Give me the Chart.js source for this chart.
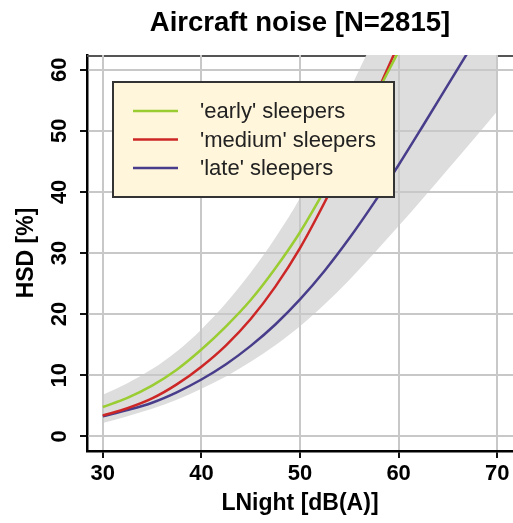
<!DOCTYPE html>
<html>
<head>
<meta charset="utf-8">
<script src="https://cdn.jsdelivr.net/npm/chart.js@4"></script>
<style>
  html, body { margin: 0; padding: 0; background: #fff; overflow: hidden; }
</style>
</head>
<body>
<canvas id="myChart" width="513" height="523"></canvas>
<script>
// LNight levels (dB(A)) and HSD (%)
const levels = [30, 32.5, 35, 37.5, 40, 42.5, 45, 47.5, 50, 52.5, 55, 57.5, 60, 62.5, 65, 67.5, 70];
const earlySleepers = [4.8, 6.3, 8.3, 10.9, 14.2, 18.0, 22.3, 27.5, 33.4, 40.3, 47.6, 55.2, 63.0, 71.0, 79.0, 87.0, 95.0];
const mediumSleepers = [3.4, 4.6, 6.2, 8.5, 11.4, 14.9, 19.2, 24.5, 30.8, 38.3, 46.5, 55.2, 64.2, 73.3, 82.5, 91.7, 101.0];
const lateSleepers = [3.3, 4.3, 5.5, 7.2, 9.3, 11.8, 14.8, 18.3, 22.4, 27.1, 32.4, 38.2, 44.4, 50.9, 57.5, 64.1, 70.7];
const bandLower = [2.2, 3.3, 4.5, 6.0, 7.8, 9.8, 12.2, 14.9, 18.0, 21.6, 25.6, 29.9, 34.4, 39.0, 43.7, 48.4, 53.2];
const bandUpper = [6.8, 8.7, 11.0, 13.9, 17.5, 21.8, 26.8, 32.5, 39.0, 47.0, 56.5, 65.0, 73.5, 82.0, 90.5, 99.0, 107.5];

const xTicks = [30, 40, 50, 60, 70];
const yTicks = [0, 10, 20, 30, 40, 50, 60];
const seriesNames = ["'early' sleepers", "'medium' sleepers", "'late' sleepers"];
const seriesColors = ['#9acd32', '#cd2626', '#483d8b'];

const FONT = "'Liberation Sans', Arial, Helvetica, sans-serif";
Chart.defaults.font.family = FONT;
Chart.defaults.color = '#000';

const toPoints = (ys) => levels.map((x, i) => ({x: x, y: ys[i]}));

const curve = (i, ys) => ({
    label: seriesNames[i],
    data: toPoints(ys),
    borderColor: seriesColors[i],
    borderWidth: 2.5,
    pointRadius: 0,
    fill: false,
    cubicInterpolationMode: 'monotone',
});

const data = {
    datasets: [
        curve(0, earlySleepers),
        curve(1, mediumSleepers),
        curve(2, lateSleepers),
        {
            label: 'lower',
            data: toPoints(bandLower),
            borderWidth: 0,
            pointRadius: 0,
            fill: false,
            cubicInterpolationMode: 'monotone',
        },
        {
            label: 'upper',
            data: toPoints(bandUpper),
            borderWidth: 0,
            pointRadius: 0,
            backgroundColor: '#dddddd',
            fill: '-1',
            cubicInterpolationMode: 'monotone',
        },
    ]
};

// top frame line (sits under the band), grid redrawn over the band
const framePlugin = {
    id: 'frame',
    beforeDatasetsDraw(chart) {
        const {ctx, chartArea} = chart;
        ctx.save();
        ctx.strokeStyle = '#555';
        ctx.lineWidth = 2;
        ctx.beginPath();
        ctx.moveTo(chartArea.left, chartArea.top + 1);
        ctx.lineTo(chartArea.right, chartArea.top + 1);
        ctx.stroke();
        ctx.restore();
    },
    afterDatasetDraw(chart, args) {
        if (args.index !== 4) return;
        chart.scales.x.drawGrid(chart.chartArea);
        chart.scales.y.drawGrid(chart.chartArea);
    },
    afterDraw(chart) {
        const {ctx, chartArea} = chart;
        const y = chart.scales.y;
        // rotated y tick labels, like R's default
        ctx.save();
        ctx.font = 'bold 22px ' + FONT;
        ctx.fillStyle = '#000';
        ctx.textAlign = 'center';
        ctx.textBaseline = 'alphabetic';
        y.ticks.forEach(t => {
            ctx.save();
            ctx.translate(chartArea.left - 21, y.getPixelForValue(t.value));
            ctx.rotate(-Math.PI / 2);
            ctx.fillText(String(t.value), 0, 0);
            ctx.restore();
        });
        ctx.restore();

        // legend box
        const lx = chartArea.left + 26, ly = chartArea.top + 27;
        const lw = 281, lh = 115;
        ctx.save();
        ctx.fillStyle = '#fff6dc';
        ctx.fillRect(lx, ly, lw, lh);
        ctx.strokeStyle = '#333';
        ctx.lineWidth = 2;
        ctx.strokeRect(lx, ly, lw, lh);
        ctx.font = '22px ' + FONT;
        ctx.textBaseline = 'middle';
        ctx.textAlign = 'left';
        seriesNames.forEach((name, i) => {
            const rowY = ly + 29 + i * 28.5;
            ctx.strokeStyle = seriesColors[i];
            ctx.lineWidth = 2.5;
            ctx.beginPath();
            ctx.moveTo(lx + 20, rowY);
            ctx.lineTo(lx + 65, rowY);
            ctx.stroke();
            ctx.fillStyle = '#222';
            ctx.fillText(name, lx + 87, rowY + 1);
        });
        ctx.restore();
    }
};

const config = {
    type: 'line',
    data: data,
    plugins: [framePlugin],
    options: {
        responsive: false,
        animation: false,
        events: [],
        layout: { padding: 0 },
        plugins: {
            legend: { display: false },
            tooltip: { enabled: false },
            title: {
                display: true,
                text: 'Aircraft noise [N=2815]',
                fullSize: false,
                color: '#000',
                font: { size: 27.5, weight: 'bold' },
                padding: { top: 7, bottom: 15 },
            },
        },
        scales: {
            x: {
                type: 'linear',
                min: 28.4,
                max: 71.6,
                afterBuildTicks: (s) => { s.ticks = xTicks.map(v => ({value: v})); },
                afterFit: (s) => { s.height = 72; },
                grid: { color: '#c8c8c8', lineWidth: 2, tickColor: '#000', tickWidth: 1.5, tickLength: 7 },
                border: { display: true, color: '#000', width: 2.5 },
                ticks: { autoSkip: false, maxRotation: 0, padding: 3, color: '#000', font: { size: 22, weight: 'bold' } },
                title: { display: true, text: 'LNight [dB(A)]', color: '#000', font: { size: 23, weight: 'bold' }, padding: { top: 0, bottom: 6 } },
            },
            y: {
                type: 'linear',
                min: -2.4,
                max: 62.4,
                afterBuildTicks: (s) => { s.ticks = yTicks.map(v => ({value: v})); },
                afterFit: (s) => { s.width = 87; },
                grid: { color: '#c8c8c8', lineWidth: 2, tickColor: '#000', tickWidth: 1.5, tickLength: 7 },
                border: { display: true, color: '#000', width: 2.5 },
                ticks: { display: false },
                title: { display: true, text: 'HSD [%]', color: '#000', font: { size: 23, weight: 'bold' }, padding: { top: 13, bottom: 0 } },
            },
        },
    },
};

const myChart = new Chart(document.getElementById('myChart'), config);
</script>
</body>
</html>
